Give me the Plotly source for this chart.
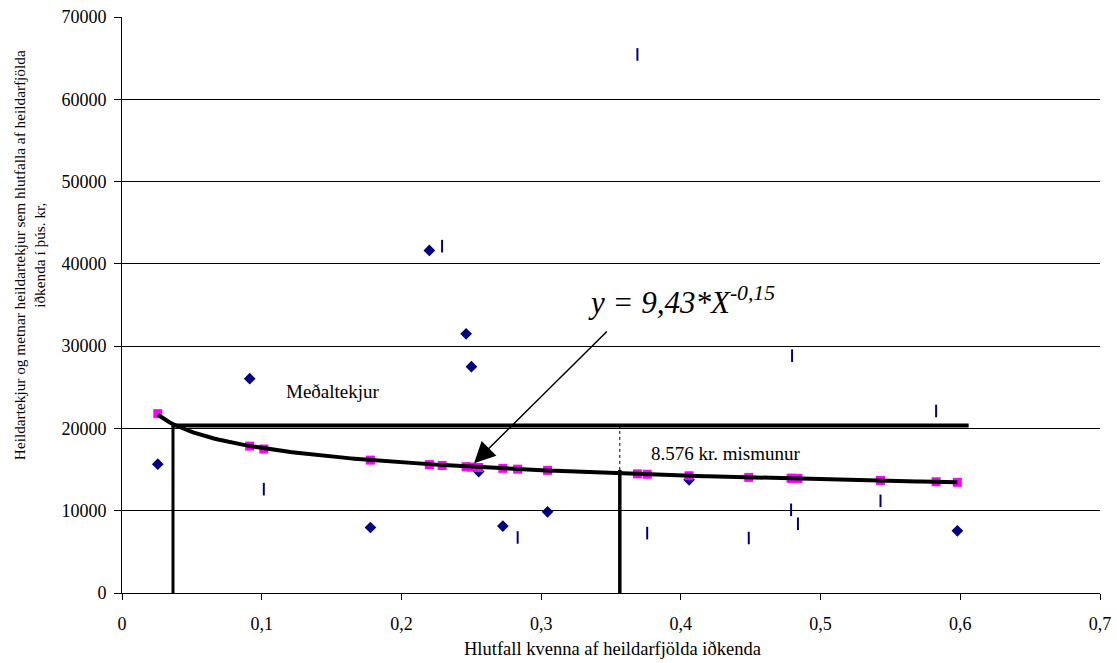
import numpy as np
import plotly.graph_objects as go

# --- data ---
# actual income (navy diamonds)
diamond_x = [0.0256, 0.0914, 0.1778, 0.2200, 0.2463, 0.2501, 0.2553, 0.2726, 0.3046, 0.4059, 0.5979]
diamond_y = [15650, 26050, 7960, 41630, 31500, 27500, 14760, 8130, 9870, 13750, 7560]

# actual income, second group (navy dashes)
dash_x = [0.1015, 0.2291, 0.2832, 0.3689, 0.3759, 0.4486, 0.4789, 0.4796, 0.4838, 0.5429, 0.5827]
dash_y = [12620, 42150, 6750, 65450, 7280, 6680, 10110, 28840, 8410, 11200, 22120]

# estimated income (magenta squares)
est_x = [0.0256, 0.0914, 0.1015, 0.1778, 0.2200, 0.2291, 0.2463, 0.2501, 0.2553, 0.2726, 0.2832,
         0.3046, 0.3689, 0.3759, 0.4059, 0.4486, 0.4789, 0.4796, 0.4838, 0.5429, 0.5827, 0.5979]
est_y = [21800, 17850, 17500, 16150, 15600, 15500, 15350, 15300, 15250, 15150, 15050,
         14900, 14480, 14430, 14250, 14050, 13950, 13940, 13920, 13680, 13520, 13450]

# reference lines
mean_income = 20350
mean_start_x = 0.0355
mean_end_x = 0.606
cross_x = 0.0365
gap_x = 0.3563
gap_curve_y = 14960

x_ticks = [0, 0.1, 0.2, 0.3, 0.4, 0.5, 0.6, 0.7]
x_tick_labels = ["0", "0,1", "0,2", "0,3", "0,4", "0,5", "0,6", "0,7"]
y_ticks = [0, 10000, 20000, 30000, 40000, 50000, 60000, 70000]

FONT = "'Liberation Serif', 'Times New Roman', serif"
NAVY = "#000080"
MAGENTA = "#FF00FF"

# power trendline fitted to the estimated values (as the spreadsheet trendline does)
b, a = np.polyfit(np.log(est_x), np.log(est_y), 1)
trend_x = np.linspace(min(est_x), max(est_x), 200)
trend_y = np.exp(a) * trend_x ** b

fig = go.Figure()

fig.add_trace(go.Scatter(x=diamond_x, y=diamond_y, mode="markers",
                         marker=dict(symbol="diamond", size=9, color=NAVY),
                         showlegend=False, hoverinfo="skip"))
fig.add_trace(go.Scatter(x=dash_x, y=dash_y, mode="markers",
                         marker=dict(symbol="line-ns", size=9, color=NAVY,
                                     line=dict(width=2, color=NAVY)),
                         showlegend=False, hoverinfo="skip"))
fig.add_trace(go.Scatter(x=est_x, y=est_y, mode="markers",
                         marker=dict(symbol="square", size=9, color=MAGENTA),
                         showlegend=False, hoverinfo="skip"))
fig.add_trace(go.Scatter(x=trend_x, y=trend_y, mode="lines",
                         line=dict(color="black", width=4),
                         showlegend=False, hoverinfo="skip"))
# mean income line
fig.add_trace(go.Scatter(x=[mean_start_x, mean_end_x], y=[mean_income, mean_income], mode="lines",
                         line=dict(color="black", width=4), showlegend=False, hoverinfo="skip"))
# vertical line at crossing point
fig.add_trace(go.Scatter(x=[cross_x, cross_x], y=[0, mean_income], mode="lines",
                         line=dict(color="black", width=3), showlegend=False, hoverinfo="skip"))
# vertical line at difference point
fig.add_trace(go.Scatter(x=[gap_x, gap_x], y=[0, gap_curve_y], mode="lines",
                         line=dict(color="black", width=3.5), showlegend=False, hoverinfo="skip"))
fig.add_trace(go.Scatter(x=[gap_x, gap_x], y=[gap_curve_y, mean_income], mode="lines",
                         line=dict(color="black", width=1, dash="dot"), showlegend=False, hoverinfo="skip"))

annotations = [
    dict(x=0.1508, y=24470, xref="x", yref="y", text="Meðaltekjur", showarrow=False,
         xanchor="center", yanchor="middle",
         font=dict(family=FONT, size=19, color="black")),
    dict(x=0.4324, y=16990, xref="x", yref="y", text="8.576 kr. mismunur", showarrow=False,
         xanchor="center", yanchor="middle",
         font=dict(family=FONT, size=19, color="black")),
    dict(x=0.4005, y=35600, xref="x", yref="y",
         text="<i>y = 9,43*X<sup>-0,15</sup></i>", showarrow=False,
         xanchor="center", yanchor="middle",
         font=dict(family=FONT, size=31, color="black")),
    dict(x=0.252, y=15780, xref="x", yref="y", ax=0.3481, ay=31950, axref="x", ayref="y",
         text="", showarrow=True, arrowhead=2, arrowsize=2.8, arrowwidth=1.5, arrowcolor="black"),
    dict(x=-0.0951, y=0.5865, xref="paper", yref="paper", textangle=-90,
         xanchor="center", yanchor="middle",
         text="Heildartekjur og metnar heildartekjur sem hlutfalla af heildarfjölda<br>iðkenda í þús. kr,",
         showarrow=False, font=dict(family=FONT, size=15.3, color="black")),
    dict(x=0.502, y=-0.098, xref="paper", yref="paper",
         xanchor="center", yanchor="middle",
         text="Hlutfall kvenna af heildarfjölda iðkenda", showarrow=False,
         font=dict(family=FONT, size=18.5, color="black")),
]

fig.update_layout(
    width=1117, height=663,
    margin=dict(l=122, r=17, t=17, b=70),
    paper_bgcolor="white", plot_bgcolor="white",
    font=dict(family=FONT, size=18, color="black"),
    annotations=annotations,
    showlegend=False,
)
fig.update_xaxes(range=[0, 0.7], tickvals=x_ticks, ticktext=x_tick_labels, automargin=False,
                 showgrid=False, zeroline=False, showline=True, linecolor="black", linewidth=1,
                 ticks="outside", ticklen=6, tickcolor="black", ticklabelstandoff=8,
                 tickfont=dict(family=FONT, size=18, color="black"))
fig.update_yaxes(range=[0, 70000], tickvals=y_ticks, tickformat="d", automargin=False,
                 showgrid=True, gridcolor="black", gridwidth=1, zeroline=False,
                 showline=True, linecolor="black", linewidth=1,
                 ticks="outside", ticklen=7, tickcolor="black", ticklabelstandoff=4,
                 tickfont=dict(family=FONT, size=18, color="black"))

fig.write_html("out.html", config={"displayModeBar": False},
               post_script="document.body.style.margin='0';document.body.style.padding='0';")
